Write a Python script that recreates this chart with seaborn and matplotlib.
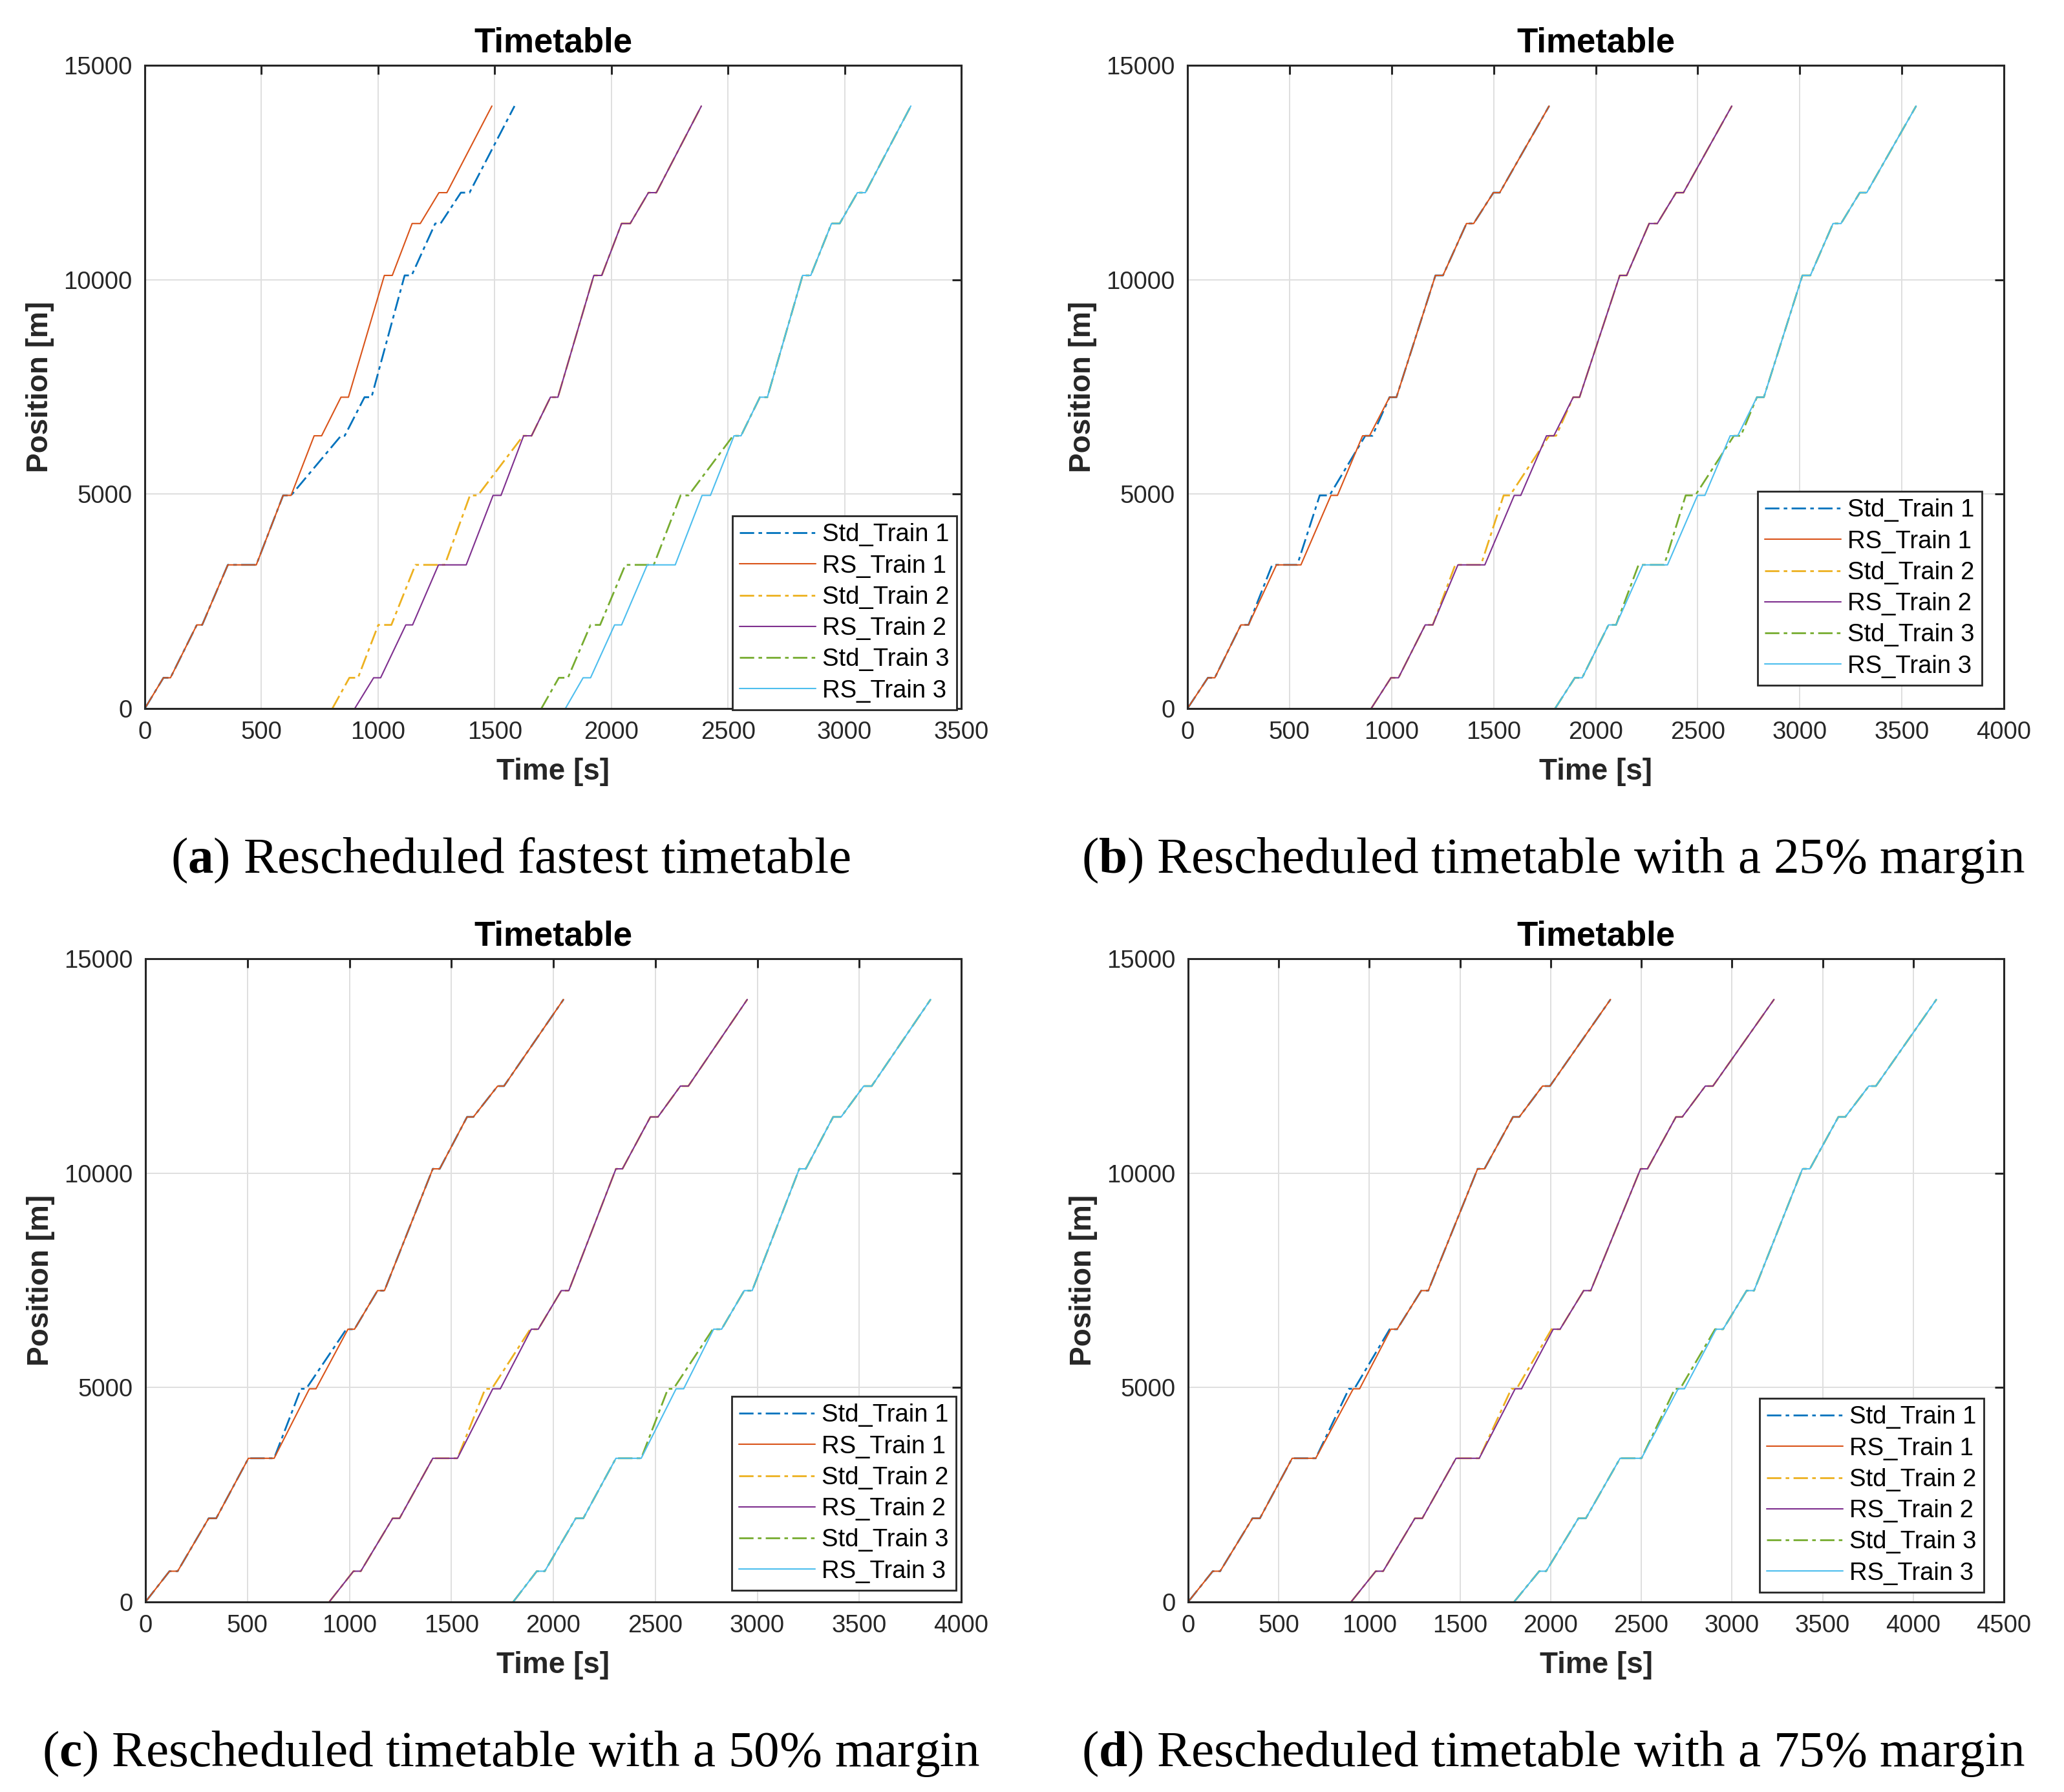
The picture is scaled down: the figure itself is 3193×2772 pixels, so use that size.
import matplotlib
matplotlib.use("Agg")
import matplotlib.pyplot as plt
import numpy as np
import pandas as pd
import seaborn as sns

# ---------------- data ----------------
STATIONS = [0, 717, 1950, 3350, 4970, 6360, 7260, 10100, 11310, 12030, 14050]

SERIES = ["Std_Train 1", "RS_Train 1", "Std_Train 2", "RS_Train 2", "Std_Train 3", "RS_Train 3"]
COLORS = ["#0072BD", "#D95319", "#EDB120", "#7E2F8E", "#77AC30", "#4DBEEE"]

# times [s] at arrival/departure of every station (start, arr/dep..., end)
# (a) fastest timetable
A_STD1 = [0, 80, 110, 223, 246, 356, 478, 593, 627, 841, 857, 942, 972, 1114, 1144, 1245, 1268, 1355, 1392, 1585]
A_RS1 = [0, 80, 110, 223, 246, 356, 478, 593, 627, 726, 758, 841, 873, 1027, 1061, 1146, 1181, 1261, 1295, 1488]
A_STD2 = [804, 877, 914, 1001, 1057, 1160, 1286, 1394, 1428, 1622, 1658, 1739, 1771, 1925, 1959, 2044, 2081, 2159, 2193, 2386]
A_RS2 = [900, 981, 1011, 1119, 1148, 1259, 1378, 1493, 1527, 1624, 1658, 1739, 1771, 1925, 1959, 2044, 2081, 2159, 2193, 2386]
A_STD3 = [1700, 1775, 1814, 1911, 1952, 2060, 2182, 2297, 2331, 2522, 2556, 2637, 2669, 2820, 2855, 2944, 2979, 3055, 3089, 3284]
A_RS3 = [1803, 1879, 1911, 2014, 2044, 2154, 2274, 2389, 2425, 2526, 2556, 2637, 2669, 2820, 2855, 2944, 2979, 3055, 3089, 3284]

# (b) 25% margin
B_STD1 = [0, 100, 134, 262, 299, 415, 538, 648, 696, 871, 906, 990, 1024, 1215, 1252, 1367, 1402, 1499, 1530, 1772]
B_RS1 = [0, 100, 134, 262, 299, 436, 556, 703, 735, 858, 892, 990, 1024, 1215, 1252, 1367, 1402, 1499, 1530, 1772]
B_STD2 = [900, 997, 1034, 1165, 1202, 1312, 1438, 1549, 1580, 1772, 1806, 1890, 1921, 2118, 2152, 2262, 2302, 2394, 2430, 2667]
B_RS2 = [900, 997, 1034, 1165, 1202, 1325, 1457, 1601, 1633, 1759, 1795, 1890, 1921, 2118, 2152, 2262, 2302, 2394, 2430, 2667]
B_STD3 = [1801, 1898, 1934, 2063, 2100, 2210, 2336, 2441, 2488, 2677, 2711, 2790, 2824, 3013, 3052, 3163, 3202, 3294, 3328, 3570]
B_RS3 = [1801, 1898, 1934, 2063, 2100, 2231, 2352, 2499, 2535, 2659, 2696, 2790, 2824, 3013, 3052, 3163, 3202, 3294, 3328, 3570]

# (c) 50% margin
C_STD1 = [0, 118, 158, 310, 347, 505, 631, 762, 788, 985, 1025, 1138, 1172, 1409, 1443, 1577, 1608, 1727, 1758, 2050]
C_RS1 = [0, 118, 158, 310, 347, 505, 631, 804, 836, 993, 1025, 1138, 1172, 1409, 1443, 1577, 1608, 1727, 1758, 2050]
C_STD2 = [901, 1020, 1056, 1212, 1246, 1409, 1530, 1666, 1698, 1887, 1926, 2039, 2076, 2307, 2339, 2476, 2513, 2623, 2662, 2951]
C_RS2 = [901, 1020, 1056, 1212, 1246, 1409, 1530, 1703, 1740, 1892, 1926, 2039, 2076, 2307, 2339, 2476, 2513, 2623, 2662, 2951]
C_STD3 = [1803, 1919, 1958, 2110, 2147, 2307, 2431, 2562, 2589, 2782, 2825, 2936, 2975, 3206, 3238, 3372, 3411, 3522, 3561, 3850]
C_RS3 = [1803, 1919, 1958, 2110, 2147, 2307, 2431, 2602, 2639, 2786, 2825, 2936, 2975, 3206, 3238, 3372, 3411, 3522, 3561, 3850]

# (d) 75% margin
D_STD1 = [0, 136, 177, 355, 396, 574, 704, 887, 917, 1112, 1153, 1286, 1325, 1597, 1635, 1792, 1827, 1955, 1996, 2330]
D_RS1 = [0, 136, 177, 355, 396, 574, 704, 911, 946, 1118, 1153, 1286, 1325, 1597, 1635, 1792, 1827, 1955, 1996, 2330]
D_STD2 = [899, 1035, 1076, 1251, 1292, 1478, 1606, 1783, 1812, 2005, 2052, 2182, 2221, 2496, 2534, 2691, 2726, 2853, 2895, 3232]
D_RS2 = [899, 1035, 1076, 1251, 1292, 1478, 1606, 1804, 1839, 2014, 2052, 2182, 2221, 2496, 2534, 2691, 2726, 2853, 2895, 3232]
D_STD3 = [1798, 1937, 1975, 2153, 2194, 2383, 2501, 2685, 2714, 2907, 2951, 3081, 3122, 3389, 3430, 3587, 3625, 3755, 3794, 4128]
D_RS3 = [1798, 1937, 1975, 2153, 2194, 2383, 2501, 2703, 2738, 2912, 2951, 3081, 3122, 3389, 3430, 3587, 3625, 3755, 3794, 4128]

X_MAX = [3500, 4000, 4000, 4500]
Y_TICKS = [0, 5000, 10000, 15000]
TAGS = ["a", "b", "c", "d"]
CAPTIONS = ["Rescheduled fastest timetable",
            "Rescheduled timetable with a 25% margin",
            "Rescheduled timetable with a 50% margin",
            "Rescheduled timetable with a 75% margin"]

PANEL_DATA = [
    [A_STD1, A_RS1, A_STD2, A_RS2, A_STD3, A_RS3],
    [B_STD1, B_RS1, B_STD2, B_RS2, B_STD3, B_RS3],
    [C_STD1, C_RS1, C_STD2, C_RS2, C_STD3, C_RS3],
    [D_STD1, D_RS1, D_STD2, D_RS2, D_STD3, D_RS3],
]

# position sequence matching the time lists (dwell -> two points per station)
POSITIONS = [STATIONS[0]] + [p for s in STATIONS[1:-1] for p in (s, s)] + [STATIONS[-1]]

# ---------------- style ----------------
sns.set_theme(style="white")
plt.rcParams["font.family"] = ["Liberation Sans", "DejaVu Sans"]
plt.rcParams["mathtext.fontset"] = "custom"
plt.rcParams["mathtext.rm"] = "Liberation Serif"
plt.rcParams["mathtext.bf"] = "Liberation Serif:bold"
plt.rcParams["axes.unicode_minus"] = False

W, H = 3193, 2772
DPI = 100
fig = plt.figure(figsize=(W / DPI, H / DPI), dpi=DPI)

# axes boxes in pixels: (left, top, right, bottom)
BOXES = [(224, 101, 1487, 1096), (1837, 101, 3100, 1096),
         (225, 1483, 1487, 2478), (1838, 1483, 3100, 2478)]
# legend lower-right corners in pixels
LEG_CORNER = [(1480, 1098), (3066, 1060), (1479, 2460), (3069, 2463)]
CAP_BASE = [1350, 1350, 2732, 2732]

DASHDOT = (0, (8, 2.4, 2, 2.4))
INK = "#262626"

for i in range(4):
    l, t, r, b = BOXES[i]
    ax = fig.add_axes([l / W, 1 - b / H, (r - l) / W, (b - t) / H])
    for k, name in enumerate(SERIES):
        df = pd.DataFrame({"Time": PANEL_DATA[i][k], "Position": POSITIONS})
        is_std = name.startswith("Std")
        sns.lineplot(data=df, x="Time", y="Position", ax=ax, color=COLORS[k],
                     sort=False, estimator=None, errorbar=None,
                     linewidth=2.0 if is_std else 1.5,
                     linestyle=DASHDOT if is_std else "-",
                     label=name)
    ax.set_xlim(0, X_MAX[i])
    ax.set_ylim(0, 15000)
    ax.set_xticks(np.arange(0, X_MAX[i] + 1, 500))
    ax.set_yticks(Y_TICKS)
    ax.grid(True, color="#dfdfdf", linewidth=1.4)
    ax.set_axisbelow(True)
    for sp in ax.spines.values():
        sp.set_color(INK)
        sp.set_linewidth(2.2)
        sp.set_visible(True)
    ax.tick_params(direction="in", length=10, width=2.2, top=True, right=True,
                   labelsize=27.5, pad=14, color=INK, labelcolor=INK)
    ax.set_xlabel("Time [s]", fontsize=33, fontweight="bold", color=INK, labelpad=15)
    ax.set_ylabel("Position [m]", fontsize=33, fontweight="bold", color=INK, labelpad=10)
    ax.set_title("Timetable", fontsize=38, fontweight="bold", color="black", pad=15)

    lx, ly = LEG_CORNER[i]
    leg = ax.legend(loc="lower right", bbox_to_anchor=(lx / W, 1 - ly / H),
                    bbox_transform=fig.transFigure, borderaxespad=0,
                    fontsize=27.5, handlelength=3.09, handletextpad=0.26,
                    borderpad=0.3, labelspacing=0.32, fancybox=False,
                    framealpha=1, edgecolor=INK)
    leg.get_frame().set_linewidth(2.0)
    for txt in leg.get_texts():
        txt.set_color("black")

    cx = (l + r) / 2 - 66
    fig.text(cx / W, 1 - CAP_BASE[i] / H, r"($\mathbf{" + TAGS[i] + r"}$) " + CAPTIONS[i],
             ha="center", va="baseline", fontsize=57, family="Liberation Serif", color="black")

fig.savefig("out.png", dpi=DPI)
